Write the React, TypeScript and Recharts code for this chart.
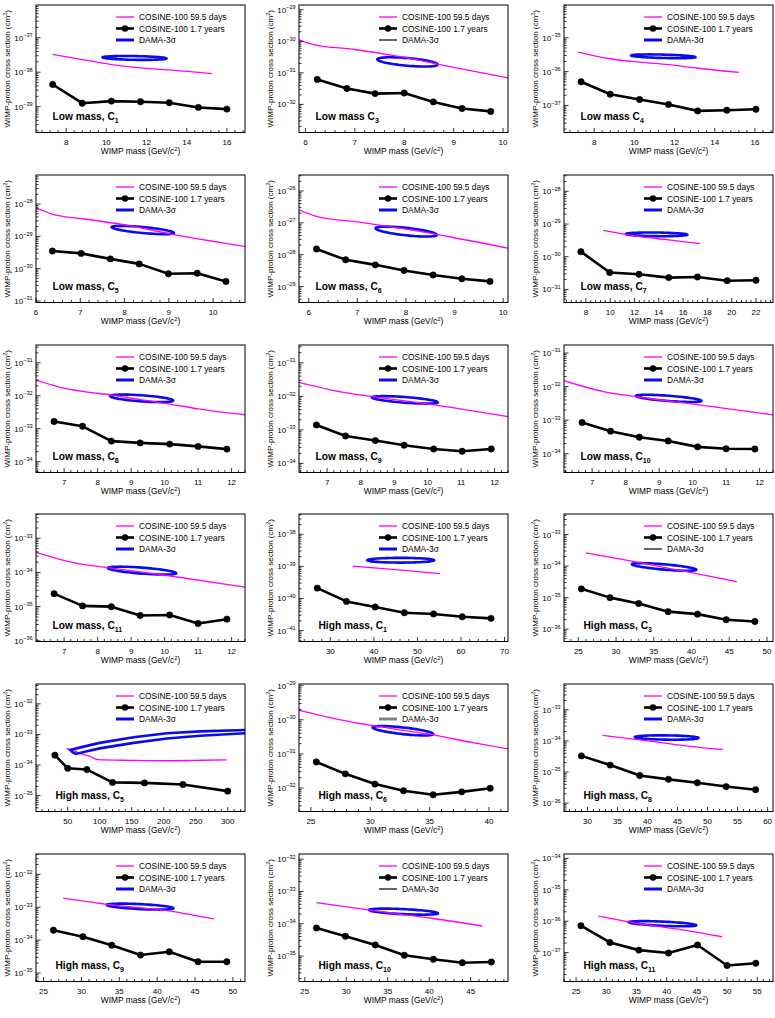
import React from 'react';
import { ComposedChart, Line, XAxis, YAxis, ReferenceArea } from 'recharts';

type Pt = [number, number];

// values
// *Days  = COSINE-100 59.5 days limit, *Years = COSINE-100 1.7 years limit
// *Dama  = [mass min, mass max, sigma top, sigma bottom, sigma at left tip, sigma at right tip]

const lowC1Days: Pt[] = [[7.33, 3.3e-38], [8.8, 2.3e-38], [10.25, 1.67e-38], [11.7, 1.34e-38], [13.13, 1.17e-38], [15.25, 9.1e-39]];
const lowC1Years: Pt[] = [[7.33, 4.4e-39], [8.8, 1.26e-39], [10.25, 1.45e-39], [11.7, 1.39e-39], [13.13, 1.3e-39], [14.58, 9.5e-40], [16.0, 8.5e-40]];
const lowC1Dama = [9.75, 13.05, 3.2e-38, 2.1e-38, 2.75e-38, 2.45e-38];

const lowC3Days: Pt[] = [[5.87, 1.12e-30], [6.17, 7.9e-31], [7, 5.5e-31], [8, 3.1e-31], [9, 1.5e-31], [10.1, 6.9e-32]];
const lowC3Years: Pt[] = [[6.24, 6.2e-32], [6.84, 3.2e-32], [7.41, 2.2e-32], [8.0, 2.3e-32], [8.59, 1.2e-32], [9.17, 7.4e-33], [9.75, 6.0e-33]];
const lowC3Dama = [7.43, 8.7, 3.4e-31, 1.45e-31, 2.8e-31, 1.74e-31];

const lowC4Days: Pt[] = [[7.2, 3.8e-36], [8.8, 2.4e-36], [10.26, 1.9e-36], [11.7, 1.6e-36], [13.15, 1.26e-36], [15.2, 9.5e-37]];
const lowC4Years: Pt[] = [[7.35, 5.0e-37], [8.8, 2.15e-37], [10.26, 1.5e-37], [11.7, 1.07e-37], [13.15, 6.9e-38], [14.6, 7.2e-38], [16.05, 7.7e-38]];
const lowC4Dama = [9.78, 13.1, 3.5e-36, 2.3e-36, 3.16e-36, 2.63e-36];

const lowC5Days: Pt[] = [[6, 7.6e-29], [6.34, 5e-29], [7.06, 3.5e-29], [8.07, 2.2e-29], [9.02, 1.2e-29], [10.72, 4.9e-30]];
const lowC5Years: Pt[] = [[6.37, 3.5e-30], [7.02, 2.96e-30], [7.68, 2.0e-30], [8.33, 1.4e-30], [8.99, 6.9e-31], [9.64, 7.2e-31], [10.29, 4.0e-31]];
const lowC5Dama = [7.68, 9.14, 2.3e-29, 1.07e-29, 2.04e-29, 1.2e-29];

const lowC6Days: Pt[] = [[5.8, 2.5e-27], [6.16, 1.6e-27], [7, 1.07e-27], [8, 6.3e-28], [9, 3.4e-28], [10.1, 1.6e-28]];
const lowC6Years: Pt[] = [[6.16, 1.5e-28], [6.76, 6.9e-29], [7.37, 4.8e-29], [7.96, 3.2e-29], [8.56, 2.3e-29], [9.15, 1.75e-29], [9.73, 1.45e-29]];
const lowC6Dama = [7.35, 8.66, 8.3e-28, 3.4e-28, 7.2e-28, 4e-28];

const lowC7Days: Pt[] = [[9.43, 6.4e-30], [12.3, 4.2e-30], [14.8, 3.3e-30], [17.4, 2.5e-30]];
const lowC7Years: Pt[] = [[7.59, 1.43e-30], [9.96, 3.3e-31], [12.37, 2.9e-31], [14.82, 2.3e-31], [17.18, 2.4e-31], [19.63, 1.85e-31], [22.0, 1.9e-31]];
const lowC7Dama = [11.2, 16.45, 6e-30, 3.9e-30, 5.1e-30, 4.7e-30];

const lowC8Days: Pt[] = [[6.16, 2.97e-32], [6.8, 1.9e-32], [7.55, 1.35e-32], [8.42, 1.05e-32], [9.28, 7.6e-33], [10.15, 5.6e-33], [11.0, 4e-33], [12.4, 2.65e-33]];
const lowC8Years: Pt[] = [[6.7, 1.66e-33], [7.55, 1.18e-33], [8.41, 4.2e-34], [9.27, 3.7e-34], [10.15, 3.4e-34], [11.0, 2.9e-34], [11.86, 2.4e-34]];
const lowC8Dama = [8.34, 10.29, 1.18e-32, 5.9e-33, 1.02e-32, 6.8e-33];

const lowC9Days: Pt[] = [[6.16, 2.6e-32], [7.4, 1.35e-32], [8.45, 9.5e-33], [10.18, 5.6e-33], [12.4, 2.5e-33]];
const lowC9Years: Pt[] = [[6.68, 1.4e-33], [7.55, 6.6e-34], [8.44, 4.8e-34], [9.3, 3.5e-34], [10.18, 2.7e-34], [11.03, 2.3e-34], [11.9, 2.7e-34]];
const lowC9Dama = [8.3, 10.34, 1.1e-32, 5.6e-33, 9.8e-33, 6.3e-33];

const lowC10Days: Pt[] = [[6.16, 1.5e-32], [7.34, 7.1e-33], [8.4, 4.9e-33], [10.14, 2.9e-33], [12.4, 1.45e-33]];
const lowC10Years: Pt[] = [[6.7, 8.5e-34], [7.55, 4.7e-34], [8.41, 3.1e-34], [9.27, 2.4e-34], [10.15, 1.6e-34], [11.0, 1.4e-34], [11.86, 1.38e-34]];
const lowC10Dama = [8.27, 10.3, 6.2e-33, 3.2e-33, 5.5e-33, 3.5e-33];

const lowC11Days: Pt[] = [[6.16, 3.9e-34], [7.31, 1.9e-34], [8.42, 1.34e-34], [10.12, 8e-35], [12.4, 3.7e-35]];
const lowC11Years: Pt[] = [[6.7, 2.4e-35], [7.55, 1.05e-35], [8.41, 1e-35], [9.27, 5.5e-36], [10.15, 5.7e-36], [11.0, 3.2e-36], [11.86, 4.3e-36]];
const lowC11Dama = [8.27, 10.38, 1.6e-34, 8e-35, 1.4e-34, 8.9e-35];

const highC1Days: Pt[] = [[35.1, 1.02e-39], [45, 7.9e-40], [55.2, 5.9e-40]];
const highC1Years: Pt[] = [[27, 2.1e-40], [33.7, 8.1e-41], [40.3, 5.4e-41], [47, 3.6e-41], [53.7, 3.3e-41], [60.3, 2.7e-41], [66.9, 2.4e-41]];
const highC1Dama = [38.2, 54.1, 2e-39, 1.2e-39, 1.55e-39, 1.55e-39];

const highC3Days: Pt[] = [[26, 2.6e-34], [33, 1.3e-34], [38.8, 7e-35], [46, 3.2e-35]];
const highC3Years: Pt[] = [[25.4, 1.9e-35], [29.2, 1e-35], [33.0, 6.5e-36], [36.9, 3.6e-36], [40.8, 3e-36], [44.6, 2e-36], [48.4, 1.75e-36]];
const highC3Dama = [31.94, 40.8, 1.35e-34, 6.5e-35, 1.2e-34, 7.1e-35];

const highC5Days: Pt[] = [[48, 3.5e-34], [60, 2.9e-34], [72, 2.3e-34], [85, 1.9e-34], [97, 1.5e-34], [150, 1.42e-34], [200, 1.38e-34], [250, 1.42e-34], [298, 1.48e-34]];
const highC5Years: Pt[] = [[30, 2.1e-34], [50, 7.8e-35], [80, 7.1e-35], [120, 2.7e-35], [170, 2.6e-35], [230, 2.3e-35], [300, 1.4e-35]];
// open DAMA contour: upper edge right to left, then lower edge back to the right
const highC5DamaEdge: Pt[] = [[327, 1.4e-33], [257, 1.26e-33], [205, 1.1e-33], [153, 8.1e-34], [100, 5.3e-34], [75, 4e-34], [54, 3.1e-34], [58, 2.6e-34], [63, 2.3e-34], [80, 2.8e-34], [100, 3.5e-34], [153, 5.3e-34], [205, 7.4e-34], [257, 9.1e-34], [327, 1.1e-33]];

const highC6Days: Pt[] = [[24, 1.9e-30], [27.5, 1e-30], [30.4, 6.6e-31], [35.3, 3.6e-31], [38.75, 2.1e-31], [41.6, 1.4e-31]];
const highC6Years: Pt[] = [[25.46, 5.8e-32], [27.9, 2.6e-32], [30.4, 1.3e-32], [32.8, 8.3e-33], [35.3, 6.3e-33], [37.7, 7.7e-33], [40.1, 9.8e-33]];
const highC6Dama = [30.1, 35.4, 7.1e-31, 3.2e-31, 6.3e-31, 3.6e-31];

const highC8Days: Pt[] = [[32.5, 1.5e-34], [38.7, 1.08e-34], [49.2, 6e-35], [52.5, 5.3e-35]];
const highC8Years: Pt[] = [[29, 3.3e-35], [33.8, 1.67e-35], [38.7, 7.7e-36], [43.5, 5.8e-36], [48.3, 4.5e-36], [53.1, 3.4e-36], [58, 2.7e-36]];
const highC8Dama = [37.7, 48.7, 1.65e-34, 1e-34, 1.35e-34, 1.23e-34];

const highC9Days: Pt[] = [[27.6, 1.9e-33], [34, 1.18e-33], [41.5, 7.8e-34], [47.5, 4.4e-34]];
const highC9Years: Pt[] = [[26.3, 2.0e-34], [30.2, 1.27e-34], [34, 7e-35], [37.8, 3.5e-35], [41.6, 4.4e-35], [45.4, 2.2e-35], [49.2, 2.2e-35]];
const highC9Dama = [33.2, 42.3, 1.4e-33, 7.8e-34, 1.26e-33, 9.1e-34];

const highC10Days: Pt[] = [[26.4, 4.5e-34], [33.5, 2.5e-34], [40.5, 1.45e-34], [46.4, 8.5e-35]];
const highC10Years: Pt[] = [[26.4, 7.4e-35], [29.9, 4.1e-35], [33.5, 2.2e-35], [37.0, 1.05e-35], [40.5, 7.9e-36], [44.0, 6.2e-36], [47.5, 6.5e-36]];
const highC10Dama = [32.6, 41.2, 3.2e-34, 1.75e-34, 2.8e-34, 2e-34];

const highC11Days: Pt[] = [[28.7, 1.45e-36], [35.4, 8.4e-37], [42.6, 5.3e-37], [49.2, 3.2e-37]];
const highC11Years: Pt[] = [[25.8, 7.2e-37], [30.6, 2.1e-37], [35.4, 1.2e-37], [40.3, 9.7e-38], [45.1, 1.75e-37], [50, 3.9e-38], [54.75, 4.6e-38]];
const highC11Dama = [33.5, 45.1, 1.1e-36, 6.3e-37, 1e-36, 7.2e-37];

// x-axis tick labels
const ticks8to16 = [8, 10, 12, 14, 16];
const ticks6to10 = [6, 7, 8, 9, 10];
const ticks8to22 = [8, 10, 12, 14, 16, 18, 20, 22];
const ticks7to12 = [7, 8, 9, 10, 11, 12];
const ticks30to70 = [30, 40, 50, 60, 70];
const ticks25to50 = [25, 30, 35, 40, 45, 50];
const ticks50to300 = [50, 100, 150, 200, 250, 300];
const ticks25to40 = [25, 30, 35, 40];
const ticks30to60 = [30, 35, 40, 45, 50, 55, 60];
const ticks25to45 = [25, 30, 35, 40, 45];
const ticks25to55 = [25, 30, 35, 40, 45, 50, 55];

const legendNames = ['COSINE-100 59.5 days', 'COSINE-100 1.7 years', 'DAMA-3\u03c3'];

type DamaKey = 'blue' | 'black' | 'gray';
interface PanelDef {
  row: number;
  col: number;
  label: string;
  sub: string;
  high: boolean;
  xDomain: [number, number];
  xMajor: number[];
  xMinor: number;
  yExp: [number, number];
  days: Pt[];
  years: Pt[];
  dama?: number[];
  damaEdge?: Pt[];
  damaKey: DamaKey;
}

const panels: PanelDef[] = [
  { row: 0, col: 0, label: 'Low mass, C', sub: '1', high: false, xDomain: [6.5, 16.9], xMajor: ticks8to16, xMinor: 0.4, yExp: [-39.75, -36.05], days: lowC1Days, years: lowC1Years, dama: lowC1Dama, damaKey: 'blue' },
  { row: 0, col: 1, label: 'Low mass C', sub: '3', high: false, xDomain: [5.87, 10.1], xMajor: ticks6to10, xMinor: 0.2, yExp: [-32.89, -28.85], days: lowC3Days, years: lowC3Years, dama: lowC3Dama, damaKey: 'black' },
  { row: 0, col: 2, label: 'Low mass C', sub: '4', high: false, xDomain: [6.5, 16.9], xMajor: ticks8to16, xMinor: 0.4, yExp: [-37.8, -34.03], days: lowC4Days, years: lowC4Years, dama: lowC4Dama, damaKey: 'blue' },
  { row: 1, col: 0, label: 'Low mass, C', sub: '5', high: false, xDomain: [6, 10.72], xMajor: ticks6to10, xMinor: 0.2, yExp: [-31.05, -27.1], days: lowC5Days, years: lowC5Years, dama: lowC5Dama, damaKey: 'blue' },
  { row: 1, col: 1, label: 'Low mass, C', sub: '6', high: false, xDomain: [5.8, 10.1], xMajor: ticks6to10, xMinor: 0.2, yExp: [-29.5, -25.5], days: lowC6Days, years: lowC6Years, dama: lowC6Dama, damaKey: 'blue' },
  { row: 1, col: 2, label: 'Low mass, C', sub: '7', high: false, xDomain: [6.2, 23.4], xMajor: ticks8to22, xMinor: 0.4, yExp: [-31.4, -27.5], days: lowC7Days, years: lowC7Years, dama: lowC7Dama, damaKey: 'blue' },
  { row: 2, col: 0, label: 'Low mass, C', sub: '8', high: false, xDomain: [6.16, 12.4], xMajor: ticks7to12, xMinor: 0.2, yExp: [-34.33, -30.46], days: lowC8Days, years: lowC8Years, dama: lowC8Dama, damaKey: 'blue' },
  { row: 2, col: 1, label: 'Low mass, C', sub: '9', high: false, xDomain: [6.16, 12.4], xMajor: ticks7to12, xMinor: 0.2, yExp: [-34.27, -30.47], days: lowC9Days, years: lowC9Years, dama: lowC9Dama, damaKey: 'blue' },
  { row: 2, col: 2, label: 'Low mass, C', sub: '10', high: false, xDomain: [6.16, 12.4], xMajor: ticks7to12, xMinor: 0.2, yExp: [-34.56, -30.76], days: lowC10Days, years: lowC10Years, dama: lowC10Dama, damaKey: 'blue' },
  { row: 3, col: 0, label: 'Low mass, C', sub: '11', high: false, xDomain: [6.16, 12.4], xMajor: ticks7to12, xMinor: 0.2, yExp: [-36.02, -32.29], days: lowC11Days, years: lowC11Years, dama: lowC11Dama, damaKey: 'blue' },
  { row: 3, col: 1, label: 'High mass, C', sub: '1', high: true, xDomain: [22.8, 70.8], xMajor: ticks30to70, xMinor: 2, yExp: [-41.34, -37.37], days: highC1Days, years: highC1Years, dama: highC1Dama, damaKey: 'blue' },
  { row: 3, col: 2, label: 'High mass, C', sub: '3', high: true, xDomain: [23.1, 50.8], xMajor: ticks25to50, xMinor: 1, yExp: [-36.39, -32.35], days: highC3Days, years: highC3Years, dama: highC3Dama, damaKey: 'black' },
  { row: 4, col: 0, label: 'High mass, C', sub: '5', high: true, xDomain: [0.5, 327], xMajor: ticks50to300, xMinor: 10, yExp: [-35.52, -31.35], days: highC5Days, years: highC5Years, damaEdge: highC5DamaEdge, damaKey: 'blue' },
  { row: 4, col: 1, label: 'High mass, C', sub: '6', high: true, xDomain: [24, 41.6], xMajor: ticks25to40, xMinor: 1, yExp: [-32.69, -28.95], days: highC6Days, years: highC6Years, dama: highC6Dama, damaKey: 'gray' },
  { row: 4, col: 2, label: 'High mass, C', sub: '8', high: true, xDomain: [26.1, 60.9], xMajor: ticks30to60, xMinor: 1, yExp: [-36.27, -32.17], days: highC8Days, years: highC8Years, dama: highC8Dama, damaKey: 'blue' },
  { row: 5, col: 0, label: 'High mass, C', sub: '9', high: true, xDomain: [24, 51.6], xMajor: ticks25to50, xMinor: 1, yExp: [-35.26, -31.38], days: highC9Days, years: highC9Years, dama: highC9Dama, damaKey: 'blue' },
  { row: 5, col: 1, label: 'High mass, C', sub: '10', high: true, xDomain: [24.3, 49.5], xMajor: ticks25to45, xMinor: 1, yExp: [-35.79, -31.84], days: highC10Days, years: highC10Years, dama: highC10Dama, damaKey: 'black' },
  { row: 5, col: 2, label: 'High mass, C', sub: '11', high: true, xDomain: [23, 57.6], xMajor: ticks25to55, xMinor: 1, yExp: [-37.92, -33.86], days: highC11Days, years: highC11Years, dama: highC11Dama, damaKey: 'blue' },
];

// layout
const FONT = '"Liberation Sans", Arial, Helvetica, sans-serif';
const MAGENTA = '#ff00ff';
const BLUE = '#0a0af0';
const COL_LEFT = [36, 299, 564];
const FRAME_W = 209;
const FRAME_H = 127.5;
const ROW_TOP0 = 5;
const ROW_PITCH = 169.8;
const PAD_L = 36;
const PAD_T = 4;
const PAD_R = 2;
const PAD_B = 30;

const toXY = (pts: Pt[]) => pts.map(([x, y]) => ({ x, y }));

function logTicks(lo: number, hi: number) {
  const out: number[] = [];
  for (let d = Math.floor(lo); d <= Math.floor(hi); d++) {
    for (let k = 1; k <= 9; k++) {
      const v = k * Math.pow(10, d);
      const lg = Math.log10(v);
      if (lg >= lo && lg <= hi) out.push(v);
    }
  }
  return out;
}

function linTicks([a, b]: [number, number], step: number) {
  const out: number[] = [];
  for (let i = Math.ceil(a / step - 1e-9); i * step <= b + 1e-9; i++) out.push(+(i * step).toFixed(6));
  return out;
}

const YTick = (props: any) => {
  const { y, payload } = props;
  const lg = Math.log10(payload.value);
  const e = Math.round(lg);
  const major = Math.abs(lg - e) < 1e-6;
  return (
    <g>
      <line x1={PAD_L} x2={PAD_L + (major ? 4.5 : 2.5)} y1={y} y2={y} stroke="#000" strokeWidth={0.8} />
      {major ? (
        <text x={PAD_L - 3.3} y={y + 3} textAnchor="end" fontSize={8} fontFamily={FONT} fill="#000">
          10<tspan dy={-3.6} fontSize={5.6}>{'\u2212' + Math.abs(e)}</tspan>
        </text>
      ) : null}
    </g>
  );
};

const makeXTick = (majors: number[]) => (props: any) => {
  const { x, payload } = props;
  const v = payload.value;
  const major = majors.some((m) => Math.abs(m - v) < 1e-6);
  const yb = PAD_T + FRAME_H;
  return (
    <g>
      <line x1={x} x2={x} y1={yb} y2={yb - (major ? 4.5 : 2.5)} stroke="#000" strokeWidth={0.8} />
      {major ? (
        <text x={x} y={yb + 12.4} textAnchor="middle" fontSize={8} fontFamily={FONT} fill="#000">
          {v}
        </text>
      ) : null}
    </g>
  );
};

// tilted ellipse inside the box the library gives for the DAMA region
const makeEllipse = (fl: number, fr: number) => (p: any) => {
  const { x, y, width, height } = p;
  const inset = 1.2;
  const a = Math.max(width / 2 - inset, 1);
  const hh = Math.max(height / 2 - inset, 1);
  const cx = x + width / 2;
  const cy = y + height / 2;
  const c = hh * (fr - fl);
  const b = Math.sqrt(Math.max(hh * hh - c * c, 0.25));
  let d = '';
  for (let i = 0; i <= 72; i++) {
    const t = (i / 72) * 2 * Math.PI;
    const px = cx + a * Math.cos(t);
    const py = cy + c * Math.cos(t) + b * Math.sin(t);
    d += (i ? 'L' : 'M') + px.toFixed(2) + ',' + py.toFixed(2);
  }
  return <path d={d + 'Z'} fill="none" stroke={BLUE} strokeWidth={2.6} />;
};

function Panel({ p }: { p: PanelDef }) {
  const W = PAD_L + FRAME_W + PAD_R;
  const H = PAD_T + FRAME_H + PAD_B;
  const left = COL_LEFT[p.col] - PAD_L;
  const top = ROW_TOP0 + p.row * ROW_PITCH - PAD_T;
  const [lo, hi] = p.yExp;
  const yTicks = logTicks(lo, hi);
  const xTicks = linTicks(p.xDomain, p.xMinor);

  let ellipse = null;
  if (p.dama) {
    const [x1, x2, yt, yb, yl, yr] = p.dama;
    const span = Math.log10(yt) - Math.log10(yb);
    const fl = (Math.log10(yt) - Math.log10(yl)) / span;
    const fr = (Math.log10(yt) - Math.log10(yr)) / span;
    ellipse = <ReferenceArea x1={x1} x2={x2} y1={yb} y2={yt} ifOverflow="visible" shape={makeEllipse(fl, fr)} />;
  }

  const ft = PAD_T;
  const fb = PAD_T + FRAME_H;
  const lx = PAD_L + 80;
  const rowY = (i: number) => ft + 12 + 11.5 * i;

  return (
    <div style={{ position: 'absolute', left, top, width: W, height: H }}>
      <ComposedChart width={W} height={H} margin={{ top: PAD_T, right: PAD_R, bottom: 0, left: 0 }}>
        <XAxis
          type="number"
          dataKey="x"
          domain={p.xDomain}
          allowDataOverflow
          ticks={xTicks}
          interval={0}
          tick={makeXTick(p.xMajor)}
          tickLine={false}
          axisLine={false}
          height={PAD_B}
        />
        <YAxis
          type="number"
          scale="log"
          domain={[Math.pow(10, lo), Math.pow(10, hi)]}
          allowDataOverflow
          ticks={yTicks}
          interval={0}
          tick={YTick}
          tickLine={false}
          axisLine={false}
          width={PAD_L}
        />
        <Line
          data={toXY(p.days)}
          dataKey="y"
          type="monotone"
          stroke={MAGENTA}
          strokeWidth={1.3}
          dot={false}
          activeDot={false}
          isAnimationActive={false}
        />
        <Line
          data={toXY(p.years)}
          dataKey="y"
          type="linear"
          stroke="#000"
          strokeWidth={2.6}
          strokeLinejoin="round"
          dot={{ r: 3.2, fill: '#000', stroke: '#000', strokeWidth: 0.5 }}
          activeDot={false}
          isAnimationActive={false}
        />
        {p.damaEdge ? (
          <Line
            data={toXY(p.damaEdge)}
            dataKey="y"
            type="linear"
            stroke={BLUE}
            strokeWidth={2.6}
            dot={false}
            activeDot={false}
            isAnimationActive={false}
          />
        ) : null}
        {ellipse}
      </ComposedChart>
      <svg
        width={W}
        height={H}
        style={{ position: 'absolute', left: 0, top: 0, pointerEvents: 'none', overflow: 'visible' }}
        fontFamily={FONT}
      >
        <rect x={PAD_L} y={ft} width={FRAME_W} height={FRAME_H} fill="none" stroke="#000" strokeWidth={1} />
        <text transform={`translate(10,${ft + FRAME_H / 2}) rotate(-90)`} textAnchor="middle" fontSize={8} fill="#000">
          WIMP-proton cross section (cm<tspan dy={-3} fontSize={5.6}>2</tspan>
          <tspan dy={3}>)</tspan>
        </text>
        <text x={PAD_L + FRAME_W / 2} y={fb + 21.5} textAnchor="middle" fontSize={8.4} fill="#000">
          WIMP mass (GeV/c<tspan dy={-3} fontSize={5.8}>2</tspan>
          <tspan dy={3}>)</tspan>
        </text>

        <line x1={lx} x2={lx + 18} y1={rowY(0)} y2={rowY(0)} stroke={MAGENTA} strokeWidth={1.3} />
        <line x1={lx} x2={lx + 18} y1={rowY(1)} y2={rowY(1)} stroke="#000" strokeWidth={2.6} />
        <circle cx={lx + 9} cy={rowY(1)} r={3.2} fill="#000" />
        <line
          x1={lx}
          x2={lx + 18}
          y1={rowY(2)}
          y2={rowY(2)}
          stroke={p.damaKey === 'blue' ? BLUE : p.damaKey === 'gray' ? '#808080' : '#000'}
          strokeWidth={p.damaKey === 'black' ? 1.2 : 3}
        />
        {legendNames.map((n, i) => (
          <text key={n} x={lx + 23} y={rowY(i) + 3} fontSize={8.4} fill="#000">
            {n}
          </text>
        ))}

        <text x={PAD_L + (p.high ? 19.5 : 16.5)} y={fb - 13} fontSize={10.2} fontWeight="bold" fill="#000">
          {p.label}
          <tspan dy={3} fontSize={7}>{p.sub}</tspan>
        </text>
      </svg>
    </div>
  );
}

export default function App() {
  return (
    <div style={{ position: 'absolute', left: 0, top: 0, width: 775, height: 1018, background: '#fff', overflow: 'hidden' }}>
      <style>{'.recharts-surface{overflow:visible}'}</style>
      {panels.map((p) => (
        <Panel key={`${p.row}-${p.col}`} p={p} />
      ))}
    </div>
  );
}
